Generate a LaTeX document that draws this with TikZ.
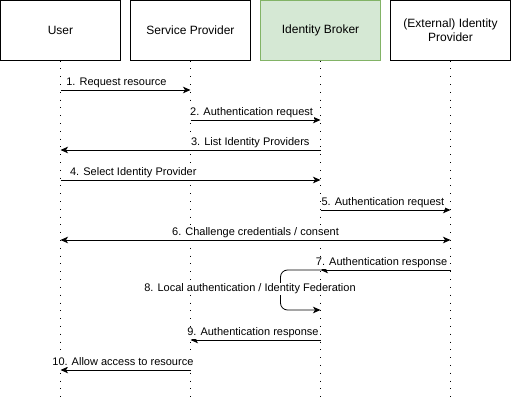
\documentclass[tikz,border=0pt]{standalone}
\usepackage{fontspec}
\setmainfont{Liberation Sans}
\usetikzlibrary{arrows.meta}
\definecolor{brokerfill}{HTML}{D5E8D4}
\definecolor{brokerline}{HTML}{82B366}
\begin{document}
\begin{tikzpicture}[x=1pt,y=-1pt,
    actor/.style={draw, minimum width=120pt, minimum height=60pt, inner sep=0pt,
        align=center, font=\fontsize{12}{14}\selectfont},
    lifeline/.style={line width=1pt, dash pattern=on 1pt off 6.8pt},
    msg/.style={line width=0.8pt, -{Stealth[length=7.5pt,width=6.5pt,inset=2pt]}},
    both/.style={line width=0.8pt, {Stealth[length=7.5pt,width=6.5pt,inset=2pt]}-{Stealth[length=7.5pt,width=6.5pt,inset=2pt]}},
    lbl/.style={font=\fontsize{11}{13}\selectfont, fill=white, inner sep=1pt,
        anchor=base, yshift=4.5pt}]
\useasboundingbox (0,0) rectangle (511,403);

% participants
\node[actor] (user) at (60.5,30.5) {User};
\node[actor] (sp) at (190.5,30.5) {Service Provider};
\node[actor, fill=brokerfill, draw=brokerline] (ib) at (320.5,30.5) {Identity Broker};
\node[actor] (idp) at (450.5,30.5) {(External) Identity\\Provider};

% lifelines
\foreach \who in {user,sp,ib,idp}
    \draw[lifeline] (\who.south) -- (\who.south |- 0,401);

% messages
\draw[msg] (user |- 0,90) -- node[lbl, pos=0.43] {1. Request resource} (sp |- 0,90);
\draw[msg] (sp |- 0,120) -- node[lbl, pos=0.47] {2. Authentication request} (ib |- 0,120);
\draw[msg] (ib |- 0,150) -- node[lbl, pos=0.27] {3. List Identity Providers} (user |- 0,150);
\draw[msg] (user |- 0,180) -- node[lbl, pos=0.28] {4. Select Identity Provider} (ib |- 0,180);
\draw[msg] (ib |- 0,210) -- node[lbl, pos=0.48] {5. Authentication request} (idp |- 0,210);
\draw[both] (user |- 0,240)
    -- node[lbl, pos=0.5] {6. Challenge credentials / consent} (idp |- 0,240);
\draw[msg] (idp |- 0,270) -- node[lbl, pos=0.53] {7. Authentication response} (ib |- 0,270);
\draw[msg, rounded corners=7pt] (ib |- 0,270) -- ++(-40,0) -- ++(0,40) -- (ib |- 0,310);
\node[lbl, yshift=0pt] (fed) at (250,296) {8. Local authentication / Identity Federation};
\draw[msg] (ib |- 0,340) -- node[lbl, pos=0.52] {9. Authentication response} (sp |- 0,340);
\draw[msg] (sp |- 0,370) -- node[lbl, pos=0.52] {10. Allow access to resource} (user |- 0,370);
\end{tikzpicture}
\end{document}
